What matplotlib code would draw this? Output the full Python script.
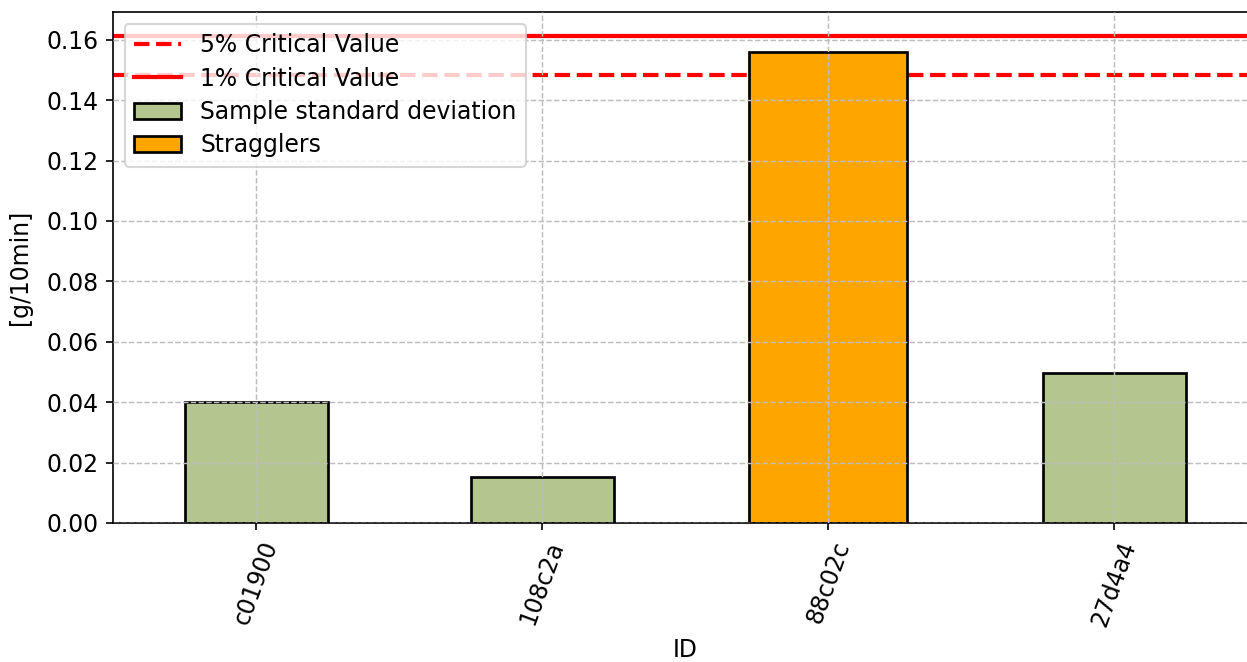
import matplotlib
matplotlib.use("Agg")
import matplotlib.pyplot as plt
from matplotlib.lines import Line2D
from matplotlib.patches import Patch

# ── Data ───────────────────────────────────────────────────────────────────────
ids          = ["c01900", "108c2a", "88c02c", "27d4a4"]
std_values   = [0.0401, 0.0152, 0.1561, 0.0497]
is_straggler = [False, False, True, False]

crit_5 = 0.1483
crit_1 = 0.1613

GREEN  = "#b4c58f"
ORANGE = "#ffa500"

plt.rcParams["font.size"] = 11.3

# ── Plot ───────────────────────────────────────────────────────────────────────
fig = plt.figure(figsize=(1247 / 150, 662 / 150), dpi=150)
ax = fig.add_axes([113 / 1247, 139 / 662, 1144 / 1247, 511 / 662])

ax.axhline(crit_5, color="red", linestyle="--", linewidth=2, zorder=1)
ax.axhline(crit_1, color="red", linestyle="-", linewidth=2, zorder=1)

x = list(range(len(ids)))
normal_x = [i for i in x if not is_straggler[i]]
strag_x  = [i for i in x if is_straggler[i]]
ax.bar(normal_x, [std_values[i] for i in normal_x], width=0.5,
       color=GREEN, edgecolor="black", linewidth=1.3, zorder=2)
ax.bar(strag_x, [std_values[i] for i in strag_x], width=0.55,
       color=ORANGE, edgecolor="black", linewidth=1.3, zorder=2)

ax.grid(True, linestyle="--", color="#bdbdbd", linewidth=0.7, zorder=3)
ax.set_axisbelow(False)

ax.set_xlim(-0.5, 3.5)
ax.set_ylim(0, 0.1692)
ax.set_xticks(x)
ax.set_xticklabels(ids, rotation=70)
ax.set_yticks([0.0, 0.02, 0.04, 0.06, 0.08, 0.10, 0.12, 0.14, 0.16])
ax.set_xlabel("ID", labelpad=4)
ax.set_ylabel("[g/10min]", labelpad=7)

handles = [
    Line2D([], [], color="red", linestyle="--", linewidth=2),
    Line2D([], [], color="red", linestyle="-", linewidth=2),
    Patch(facecolor=GREEN, edgecolor="black", linewidth=1.3),
    Patch(facecolor=ORANGE, edgecolor="black", linewidth=1.3),
]
labels = ["5% Critical Value", "1% Critical Value",
          "Sample standard deviation", "Stragglers"]
leg = ax.legend(handles, labels, loc="upper left", labelspacing=0.4)
leg.set_zorder(5)

fig.savefig("out.png", dpi=150)
